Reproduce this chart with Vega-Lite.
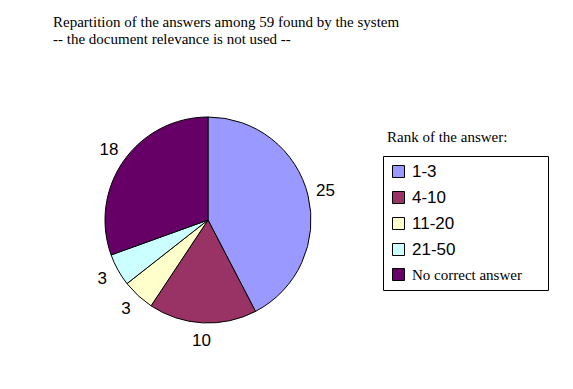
{
  "$schema": "https://vega.github.io/schema/vega-lite/v6.json",
  "width": 206,
  "height": 206,
  "autosize": "none",
  "padding": {"left": 105, "top": 117, "right": 262, "bottom": 66},
  "background": "white",
  "title": {
    "text": ["Repartition of the answers among 59 found by the system", "-- the document relevance is not used --"],
    "anchor": "start",
    "frame": "group",
    "dx": -52,
    "offset": 68,
    "font": "Liberation Serif",
    "fontSize": 15,
    "fontWeight": "normal",
    "color": "black",
    "lineHeight": 17
  },
  "data": {
    "values": [
      {"rank": "1-3", "answers": 25, "idx": 1},
      {"rank": "4-10", "answers": 10, "idx": 2},
      {"rank": "11-20", "answers": 3, "idx": 3},
      {"rank": "21-50", "answers": 3, "idx": 4},
      {"rank": "No correct answer", "answers": 18, "idx": 5}
    ]
  },
  "encoding": {
    "theta": {"field": "answers", "type": "quantitative", "stack": true},
    "order": {"field": "idx", "type": "quantitative"}
  },
  "layer": [
    {
      "mark": {"type": "arc", "outerRadius": 103, "strokeWidth": 1},
      "encoding": {
        "color": {
          "field": "rank",
          "type": "nominal",
          "scale": {
            "domain": ["1-3", "4-10", "11-20", "21-50", "No correct answer"],
            "range": ["#9999FF", "#993366", "#FFFFCC", "#CCFFFF", "#660066"]
          },
          "legend": {
            "title": " ",
            "titleOrient": "right",
            "titlePadding": 19,
            "orient": "none",
            "legendX": 278,
            "legendY": 39,
            "strokeColor": "black",
            "fillColor": "white",
            "padding": 7,
            "symbolType": "square",
            "symbolSize": 144,
            "symbolStrokeColor": "black",
            "symbolStrokeWidth": 1,
            "labelFont": "Liberation Sans",
            "labelFontSize": 17,
            "labelColor": "black",
            "labelOffset": 5,
            "rowPadding": 8,
            "encode": {
              "labels": {
                "update": {
                  "font": {"signal": "datum.label === 'No correct answer' ? 'Liberation Serif' : 'Liberation Sans'"},
                  "fontSize": {"signal": "datum.label === 'No correct answer' ? 15 : 17"}
                }
              }
            }
          }
        },
        "stroke": {
          "datum": "border",
          "type": "nominal",
          "scale": {"domain": ["border"], "range": ["black"]},
          "legend": {
            "title": "Rank of the answer:",
            "orient": "none",
            "legendX": 282,
            "legendY": 13,
            "titleFont": "Liberation Serif",
            "titleFontSize": 15,
            "titleFontWeight": "normal",
            "titleColor": "black",
            "symbolOpacity": 0,
            "labelOpacity": 0,
            "labelExpr": "''"
          }
        }
      }
    },
    {
      "mark": {"type": "text", "radius": 121, "font": "Liberation Sans", "fontSize": 17, "color": "black"},
      "encoding": {
        "text": {"field": "answers", "type": "quantitative"}
      }
    }
  ],
  "config": {"view": {"stroke": null}}
}
